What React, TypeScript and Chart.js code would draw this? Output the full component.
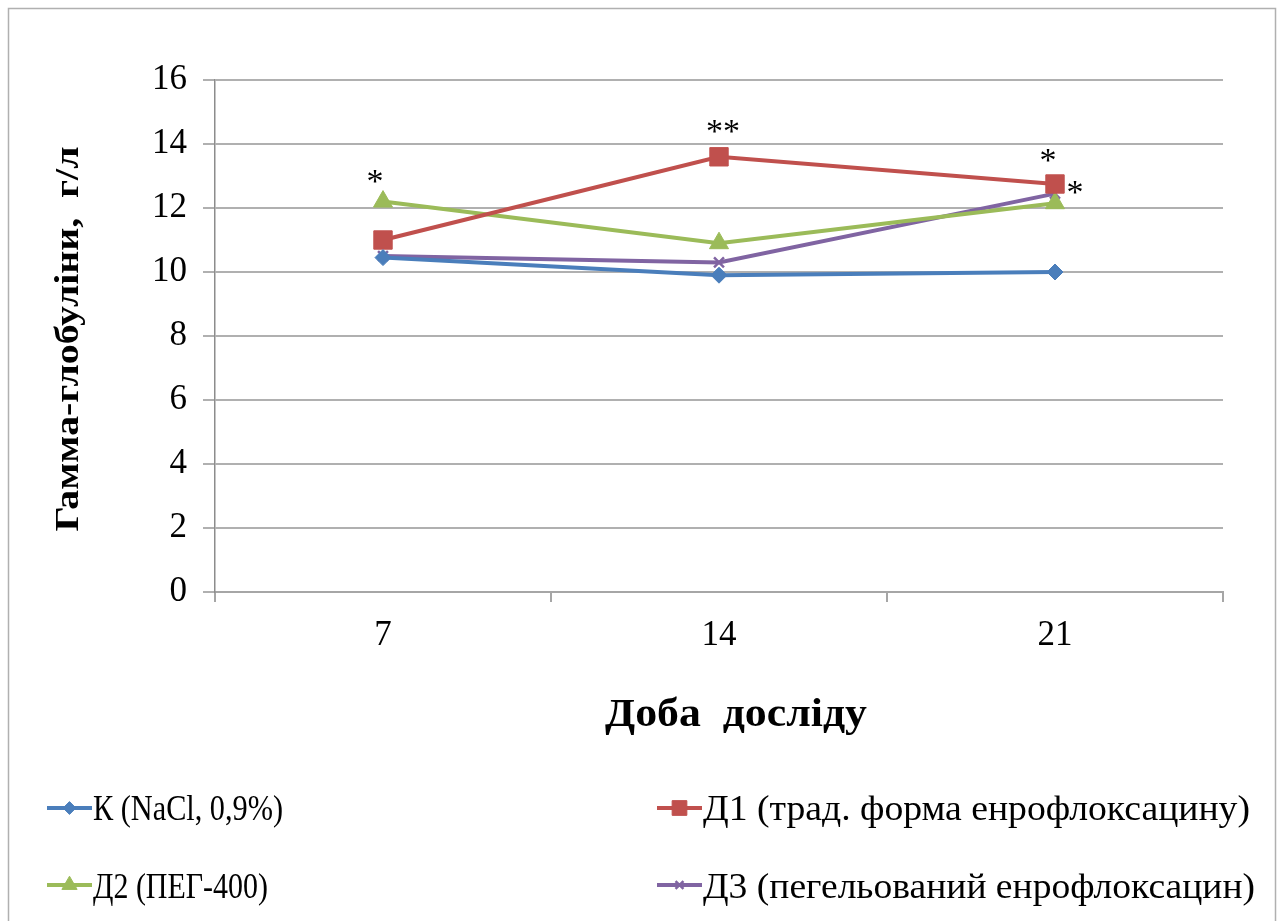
import React, { useEffect, useRef } from 'react';
import { Chart, registerables } from 'chart.js';
import { drawPoint } from 'chart.js/helpers';

Chart.register(...registerables);

// ---- data ----
const categories = ['7', '14', '21'];
const seriesK = [10.45, 9.9, 10.0];
const seriesD1 = [11.0, 13.6, 12.75];
const seriesD2 = [12.2, 10.9, 12.15];
const seriesD3 = [10.5, 10.3, 12.45];
const seriesNames = [
  'К (NaCl, 0,9%)',
  'Д1 (трад. форма енрофлоксацину)',
  'Д2 (ПЕГ-400)',
  'Д3 (пегельований енрофлоксацин)',
];
const yMin = 0;
const yMax = 16;
const yStep = 2;
const yAxisTitle = 'Гамма-глобуліни,  г/л';
const xAxisTitle = 'Доба  досліду';
// significance marks: dataset index, category index, text
const markDatasets = [2, 1, 1, 3];
const markIndices = [0, 1, 2, 2];
const markTexts = ['*', '**', '*', '*'];

// ---- styles ----
const colors = ['#4a7ebb', '#c0504d', '#9bbb59', '#8064a2'];
const pointStyles = ['rectRot', 'rect', 'triangle', 'crossRot'];
const pointRadii = [8, 13, 11, 7];
const markOffsets = [
  [-8, -26],
  [4, -31],
  [-7, -29],
  [20, -7],
];
const legendTextWidths = [190, 547, 175, 552];

const SERIF = '"Liberation Serif", "Times New Roman", serif';

function drawScaledText(ctx: CanvasRenderingContext2D, text: string, x: number, y: number, target: number) {
  const w = ctx.measureText(text).width;
  const sx = target / w;
  ctx.save();
  ctx.translate(x, y);
  ctx.scale(sx, 1);
  ctx.fillText(text, 0, 0);
  ctx.restore();
}

const annotatePlugin = {
  id: 'annotate',
  afterDatasetsDraw(chart: any) {
    const { ctx, scales } = chart;
    ctx.save();
    ctx.fillStyle = '#000';
    ctx.font = `34px ${SERIF}`;
    ctx.textAlign = 'center';
    ctx.textBaseline = 'alphabetic';
    markTexts.forEach((t, i) => {
      const ds = chart.data.datasets[markDatasets[i]];
      const idx = markIndices[i];
      const px = scales.x.getPixelForValue(idx);
      const py = scales.y.getPixelForValue(ds.data[idx]);
      // asterisk glyph centre sits ~0.47em above the baseline
      ctx.fillText(t, px + markOffsets[i][0], py + markOffsets[i][1] + 16);
    });
    ctx.restore();
  },
  afterDraw(chart: any) {
    const { ctx } = chart;
    ctx.save();
    // outer frame
    ctx.strokeStyle = '#b0b0b0';
    ctx.lineWidth = 1.5;
    ctx.strokeRect(8.5, 8.5, 1267, 940);
    ctx.fillStyle = '#000';
    ctx.textBaseline = 'alphabetic';
    // x axis title
    ctx.font = `bold 40px ${SERIF}`;
    ctx.textAlign = 'center';
    drawScaledText(ctx, xAxisTitle, 736, 726, 262);
    // y axis title
    ctx.save();
    ctx.translate(78, 339);
    ctx.rotate(-Math.PI / 2);
    ctx.font = `bold 34px ${SERIF}`;
    drawScaledText(ctx, yAxisTitle, 0, 0, 385);
    ctx.restore();
    // legend
    const colX = [47, 657];
    const rowY = [808, 885];
    const rowBase = [820, 898];
    ctx.font = `36px ${SERIF}`;
    ctx.textAlign = 'left';
    chart.data.datasets.forEach((ds: any, i: number) => {
      const x = colX[i % 2];
      const r = Math.floor(i / 2);
      const y = rowY[r];
      ctx.strokeStyle = ds.borderColor;
      ctx.lineWidth = 4;
      ctx.beginPath();
      ctx.moveTo(x, y);
      ctx.lineTo(x + 45, y);
      ctx.stroke();
      ctx.fillStyle = ds.pointBackgroundColor;
      ctx.strokeStyle = ds.pointBorderColor;
      ctx.lineWidth = ds.pointBorderWidth;
      drawPoint(ctx, { pointStyle: ds.pointStyle, radius: ds.pointRadius * 0.8, rotation: 0, borderWidth: ds.pointBorderWidth }, x + 22.5, y);
      ctx.fillStyle = '#000';
      drawScaledText(ctx, seriesNames[i], x + 46, rowBase[r], legendTextWidths[i]);
    });
    ctx.restore();
  },
};

export default function App() {
  const ref = useRef<HTMLCanvasElement | null>(null);
  useEffect(() => {
    if (!ref.current) return;
    const series = [seriesK, seriesD1, seriesD2, seriesD3];
    const chart = new Chart(ref.current, {
      type: 'line',
      data: {
        labels: categories,
        datasets: series.map((d, i) => ({
          label: seriesNames[i],
          data: d,
          borderColor: colors[i],
          backgroundColor: colors[i],
          pointBackgroundColor: colors[i],
          pointBorderColor: colors[i],
          pointStyle: pointStyles[i],
          pointRadius: pointRadii[i],
          pointBorderWidth: pointStyles[i] === 'crossRot' ? 2.5 : 1,
          borderWidth: 4,
          tension: 0,
          fill: false,
        })),
      },
      options: {
        animation: false,
        responsive: false,
        events: [],
        layout: { padding: { left: 20, top: 80, right: 57, bottom: 179 } },
        plugins: {
          legend: { display: false },
          tooltip: { enabled: false },
          title: { display: false },
        },
        scales: {
          x: {
            type: 'category',
            offset: true,
            afterFit(scale: any) {
              scale.height = 150;
            },
            grid: {
              display: true,
              drawOnChartArea: false,
              drawTicks: true,
              tickLength: 10,
              offset: true,
              color: '#a6a6a6',
              lineWidth: 2,
            },
            border: { display: true, color: '#a6a6a6', width: 2 },
            ticks: {
              color: '#000',
              font: { family: SERIF, size: 35 },
              padding: 13,
            },
            title: { display: false },
          },
          y: {
            min: yMin,
            max: yMax,
            afterFit(scale: any) {
              scale.width = 195;
            },
            grid: {
              color: '#b0b0b0',
              lineWidth: 2,
              drawTicks: true,
              tickLength: 12,
            },
            border: { display: true, color: '#8c8c8c', width: 1.5 },
            ticks: {
              stepSize: yStep,
              color: '#000',
              font: { family: SERIF, size: 35 },
              padding: 16,
            },
            title: { display: false },
          },
        },
      },
      plugins: [annotatePlugin],
    });
    return () => chart.destroy();
  }, []);
  return (
    <div style={{ position: 'fixed', left: 0, top: 0, width: 1280, height: 921, background: '#fff' }}>
      <canvas ref={ref} width={1280} height={921} style={{ display: 'block' }} />
    </div>
  );
}
